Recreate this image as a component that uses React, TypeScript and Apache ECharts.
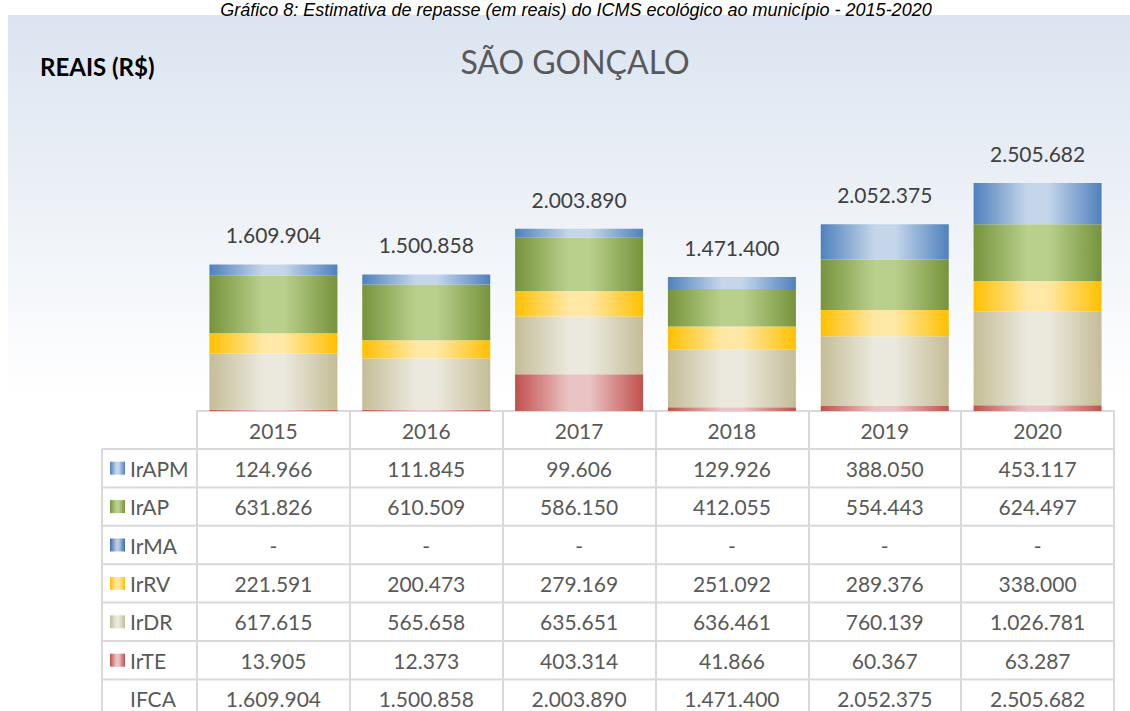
import React, { useEffect, useRef } from "react";
import * as echarts from "echarts";

const years = ["2015", "2016", "2017", "2018", "2019", "2020"];
const irAPM = [124966, 111845, 99606, 129926, 388050, 453117];
const irAP = [631826, 610509, 586150, 412055, 554443, 624497];
const irMA = [0, 0, 0, 0, 0, 0];
const irRV = [221591, 200473, 279169, 251092, 289376, 338000];
const irDR = [617615, 565658, 635651, 636461, 760139, 1026781];
const irTE = [13905, 12373, 403314, 41866, 60367, 63287];
const ifca = [1609904, 1500858, 2003890, 1471400, 2052375, 2505682];

const caption = "Gráfico 8: Estimativa de repasse (em reais) do ICMS ecológico ao município - 2015-2020";
const title = "SÃO GONÇALO";
const unitLabel = "REAIS (R$)";

type S = { name: string; data: number[]; edge: string; light: string };
// stacking order, bottom to top
const stackSeries: S[] = [
  { name: "IrTE", data: irTE, edge: "#c0504d", light: "#eac4c4" },
  { name: "IrDR", data: irDR, edge: "#c4bd97", light: "#ebe9de" },
  { name: "IrRV", data: irRV, edge: "#ffc000", light: "#ffe8a6" },
  { name: "IrMA", data: irMA, edge: "#3d6aa3", light: "#b7cbe4" },
  { name: "IrAP", data: irAP, edge: "#77933c", light: "#b9d08c" },
  { name: "IrAPM", data: irAPM, edge: "#4f81bd", light: "#c5d6ea" },
];
const tableOrder = ["IrAPM", "IrAP", "IrMA", "IrRV", "IrDR", "IrTE"];

const FONT = "Lato, 'Open Sans', sans-serif";

function fmt(v: number): string {
  if (!v) return "-";
  return String(v).replace(/\B(?=(\d{3})+(?!\d))/g, ".");
}

function grad(edge: string, light: string) {
  return {
    type: "linear",
    x: 0,
    y: 0,
    x2: 1,
    y2: 0,
    colorStops: [
      { offset: 0, color: edge },
      { offset: 0.42, color: light },
      { offset: 0.58, color: light },
      { offset: 1, color: edge },
    ],
  };
}

export default function App() {
  const ref = useRef<HTMLDivElement>(null);
  useEffect(() => {
    if (!ref.current) return;
    const chart = echarts.init(ref.current, undefined, { renderer: "svg" });

    const gridLeft = 197;
    const gridRight = 1114;
    const colW = (gridRight - gridLeft) / years.length;
    const tableLeft = 102;
    const rowTop = 449;
    const rowH = 38.4;
    const lineColor = "#d9d9d9";

    const graphics: any[] = [];
    // background
    graphics.push({
      type: "rect",
      z: -10,
      silent: true,
      shape: { x: 8, y: 15, width: 1130, height: 700 },
      style: {
        fill: {
          type: "linear",
          x: 0,
          y: 0,
          x2: 0,
          y2: 1,
          colorStops: [
            { offset: 0, color: "#dbe4f0" },
            { offset: 0.55, color: "#ffffff" },
            { offset: 1, color: "#ffffff" },
          ],
        },
      },
    });
    graphics.push({
      type: "text",
      x: 576,
      y: 1,
      z: 10,
      style: {
        text: caption,
        fill: "#000",
        fontSize: 18,
        fontStyle: "italic",
        fontFamily: "'Liberation Sans', Arial, sans-serif",
        align: "center",
        textAlign: "center",
        verticalAlign: "top",
        textVerticalAlign: "top",
      },
    });
    graphics.push({
      type: "text",
      x: 575,
      y: 61,
      style: {
        text: title,
        fill: "#595959",
        fontSize: 32,
        fontFamily: FONT,
        align: "center",
        textAlign: "center",
        verticalAlign: "middle",
        textVerticalAlign: "middle",
      },
    });
    graphics.push({
      type: "text",
      x: 40,
      y: 66,
      style: {
        text: unitLabel,
        fill: "#000",
        fontSize: 24,
        fontWeight: "bold",
        fontFamily: FONT,
        align: "left",
        textAlign: "left",
        verticalAlign: "middle",
        textVerticalAlign: "middle",
      },
    });

    // table rows
    const rows: { name: string; values: number[]; key?: S }[] = tableOrder.map((n) => {
      const s = stackSeries.find((x) => x.name === n)!;
      return { name: n, values: s.data, key: s };
    });
    rows.push({ name: "IFCA", values: ifca });

    for (let r = 0; r <= rows.length; r++) {
      const y = rowTop + r * rowH;
      graphics.push({
        type: "line",
        silent: true,
        shape: { x1: tableLeft, y1: y, x2: gridRight, y2: y },
        style: { stroke: lineColor, lineWidth: 2 },
      });
    }
    graphics.push({
      type: "line",
      silent: true,
      shape: { x1: tableLeft, y1: rowTop, x2: tableLeft, y2: 711 },
      style: { stroke: lineColor, lineWidth: 2 },
    });

    rows.forEach((row, r) => {
      const cy = rowTop + r * rowH + rowH / 2;
      if (row.key) {
        graphics.push({
          type: "rect",
          silent: true,
          shape: { x: 110, y: cy - 6.5, width: 15, height: 13 },
          style: { fill: grad(row.key.edge, row.key.light) },
        });
      }
      graphics.push({
        type: "text",
        x: 130,
        y: cy,
        style: {
          text: row.name,
          fill: "#595959",
          fontSize: 21,
          fontFamily: FONT,
          align: "left",
          textAlign: "left",
          verticalAlign: "middle",
          textVerticalAlign: "middle",
        },
      });
      row.values.forEach((v, i) => {
        graphics.push({
          type: "text",
          x: gridLeft + (i + 0.5) * colW,
          y: cy,
          style: {
            text: fmt(v),
            fill: "#595959",
            fontSize: 21,
            fontFamily: FONT,
            align: "center",
            textAlign: "center",
            verticalAlign: "middle",
            textVerticalAlign: "middle",
          },
        });
      });
    });

    const series = stackSeries.map((s, idx) => ({
      name: s.name,
      type: "bar",
      stack: "total",
      data: s.data,
      barWidth: 128,
      itemStyle: { color: grad(s.edge, s.light) },
      label:
        idx === stackSeries.length - 1
          ? {
              show: true,
              position: "top",
              distance: 19,
              color: "#404040",
              fontSize: 21,
              fontFamily: FONT,
              formatter: (p: any) => fmt(ifca[p.dataIndex]),
            }
          : { show: false },
    }));

    chart.setOption({
      animation: false,
      grid: { left: gridLeft, right: 1130 - gridRight, top: 138, bottom: 300 },
      xAxis: {
        type: "category",
        data: years,
        axisLine: { show: true, lineStyle: { color: lineColor, width: 2 } },
        axisTick: { show: true, length: 300, lineStyle: { color: lineColor, width: 2 } },
        axisLabel: {
          color: "#595959",
          fontSize: 21,
          fontFamily: FONT,
          margin: 19,
          verticalAlign: "middle",
        },
      },
      yAxis: {
        type: "value",
        min: 0,
        max: 3000000,
        show: false,
        splitLine: { show: false },
      },
      series,
      graphic: { elements: graphics },
    });

    return () => chart.dispose();
  }, []);

  return (
    <div
      ref={ref}
      style={{ position: "absolute", left: 0, top: 0, width: 1130, height: 711 }}
    />
  );
}
